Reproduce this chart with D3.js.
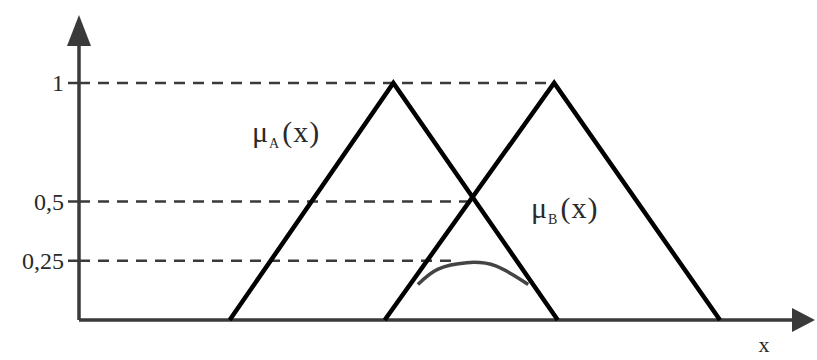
<!DOCTYPE html>
<html>
<head>
<meta charset="utf-8">
<script src="https://cdn.jsdelivr.net/npm/d3@7"></script>
<style>
  body { margin: 0; background: #fff; }
  text { font-family: "Liberation Serif", "DejaVu Serif", serif; fill: #2a2a2a; }
</style>
</head>
<body>
<div id="chart"></div>
<script>
// membership functions (x in arbitrary units, y = degree)
const muA = [[2.09, 0], [4.36, 1], [6.64, 0]];
const muB = [[4.24, 0], [6.59, 1], [8.89, 0]];
// arc
const arc = [[4.70, 0.15], [4.98, 0.215], [5.38, 0.242], [5.78, 0.228], [6.23, 0.15]];

const levels = [1, 0.5, 0.25];
const levelLabels = ["1", "0,5", "0,25"];
const levelEnds = [6.59, 5.48, 5.25];

const width = 817, height = 360;

const svg = d3.select("#chart")
    .append("svg")
        .attr("width", width)
        .attr("height", height);

const x = d3.scaleLinear().domain([0, 10]).range([79, 800]);
const y = d3.scaleLinear().domain([0, 1]).range([320, 83]);

// dashed guides
svg.append("g")
    .selectAll("line")
    .data(levels)
    .join("line")
        .attr("x1", x(0))
        .attr("x2", (d, i) => x(levelEnds[i]))
        .attr("y1", d => y(d))
        .attr("y2", d => y(d))
        .attr("stroke", "#3a3a3a")
        .attr("stroke-width", 2.5)
        .attr("stroke-dasharray", "11,8");

// ticks + labels
svg.append("g")
    .selectAll("line")
    .data(levels)
    .join("line")
        .attr("x1", x(0) - 11)
        .attr("x2", x(0))
        .attr("y1", d => y(d))
        .attr("y2", d => y(d))
        .attr("stroke", "#3a3a3a")
        .attr("stroke-width", 2.5);

svg.append("g")
    .selectAll("text")
    .data(levels)
    .join("text")
        .attr("x", x(0) - 15)
        .attr("y", d => y(d) + 8)
        .attr("text-anchor", "end")
        .style("font-size", "24px")
        .text((d, i) => levelLabels[i]);

// axes
const x0 = x(0), y0 = y(0);
svg.append("line")
    .attr("x1", x0).attr("y1", y0)
    .attr("x2", x0).attr("y2", 40)
    .attr("stroke", "#3a3a3a").attr("stroke-width", 3.5);
svg.append("path")
    .attr("d", `M${x0},15 L${x0 + 12},46 L${x0 - 12},46 Z`)
    .attr("fill", "#3a3a3a");

svg.append("line")
    .attr("x1", x0).attr("y1", y0)
    .attr("x2", 800).attr("y2", y0)
    .attr("stroke", "#3a3a3a").attr("stroke-width", 3.5);
svg.append("path")
    .attr("d", `M815,${y0} L792,${y0 - 12} L792,${y0 + 12} Z`)
    .attr("fill", "#3a3a3a");

// triangles
const line = d3.line().x(d => x(d[0])).y(d => y(d[1]));

svg.selectAll(".tri")
    .data([muA, muB])
    .join("path")
        .attr("class", "tri")
        .attr("d", line)
        .attr("fill", "none")
        .attr("stroke", "#000")
        .attr("stroke-width", 4.5)
        .attr("stroke-linejoin", "miter");

// arc
svg.append("path")
    .datum(arc)
    .attr("d", line.curve(d3.curveNatural))
    .attr("fill", "none")
    .attr("stroke", "#444")
    .attr("stroke-width", 3.5);

// labels
const muLabel = function(px, py, sub) {
    const t = svg.append("text")
        .attr("x", px)
        .attr("y", py)
        .style("font-size", "30px")
        .style("letter-spacing", "1px");
    t.append("tspan").text("μ");
    t.append("tspan").attr("dy", 6).style("font-size", "14px").text(sub);
    t.append("tspan").attr("dy", -6).attr("dx", 2).text("(x)");
};
muLabel(252, 142, "A");
muLabel(531, 218, "B");

svg.append("text")
    .attr("x", 764)
    .attr("y", 352)
    .attr("text-anchor", "middle")
    .style("font-size", "22px")
    .text("x");
</script>
</body>
</html>
